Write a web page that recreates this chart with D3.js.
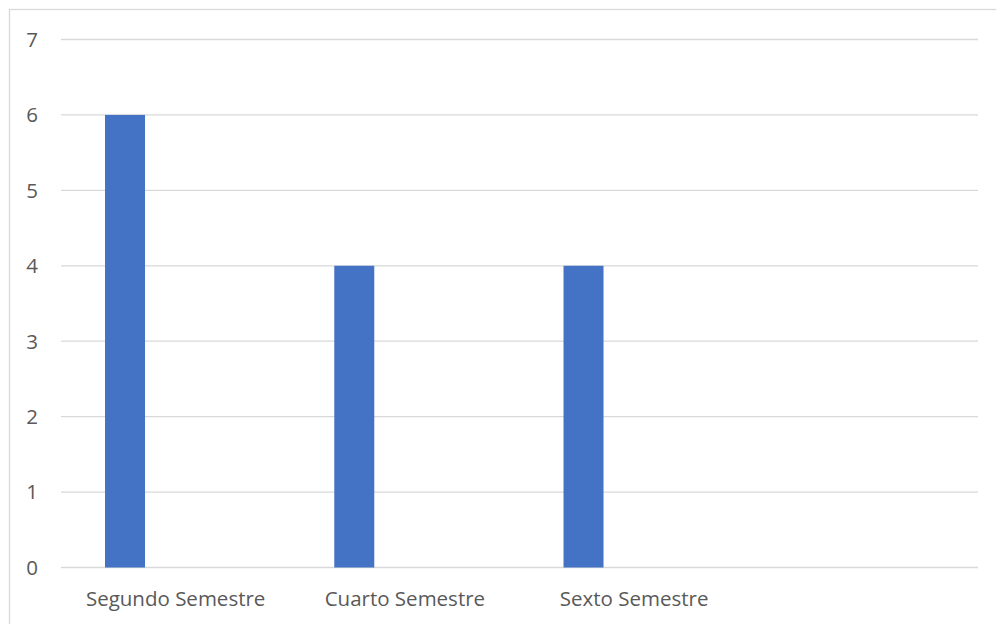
<!DOCTYPE html>
<html><head><meta charset="utf-8">
<script src="https://cdn.jsdelivr.net/npm/d3@7"></script>
<style>html,body{margin:0;padding:0;background:#fff;}svg{display:block;}</style>
</head><body>
<svg id="c" width="996" height="624"></svg>
<script>
const categories = ["Segundo Semestre", "Cuarto Semestre", "Sexto Semestre", ""];
const values = [6, 4, 4, null];
const yTicks = [0, 1, 2, 3, 4, 5, 6, 7];

(function () {
const svg = d3.select("#c");
const pLeft = 61, pRight = 978, pTop = 39.5, pBottom = 567.5;

svg.append("rect").attr("x", 9.5).attr("y", 9.5).attr("width", 1000).attr("height", 1000)
  .attr("fill", "#fff").attr("stroke", "#d9d9d9").attr("stroke-width", 1.3);

const x = d3.scaleBand().domain(categories.map((c, i) => i)).range([pLeft, pRight]).padding(0);
const y = d3.scaleLinear().domain([0, 7]).range([pBottom, pTop]);

svg.append("g").selectAll("line").data(yTicks).join("line")
  .attr("x1", pLeft).attr("x2", pRight)
  .attr("y1", d => y(d)).attr("y2", d => y(d))
  .attr("stroke", "#d9d9d9").attr("stroke-width", 1.3);

const font = "'Open Sans', sans-serif";
svg.append("g").selectAll("text").data(yTicks).join("text")
  .attr("x", 38).attr("y", d => y(d)).attr("dy", "0.36em")
  .attr("text-anchor", "end").attr("font-family", font).attr("font-size", 20.5)
  .attr("fill", "#595959").text(d => d);

const bw = x.bandwidth();
svg.append("g").selectAll("rect").data(values.map((v, i) => ({v, i})).filter(d => d.v != null)).join("rect")
  .attr("x", d => x(d.i) + bw * 0.192).attr("width", bw * 0.1745)
  .attr("y", d => y(d.v)).attr("height", d => y(0) - y(d.v))
  .attr("fill", "#4472c4");

svg.append("g").selectAll("text").data(categories).join("text")
  .attr("x", (d, i) => x(i) + bw / 2).attr("y", 606)
  .attr("text-anchor", "middle").attr("font-family", font).attr("font-size", 20.5)
  .attr("fill", "#595959").text(d => d);
})();
</script>
</body></html>
